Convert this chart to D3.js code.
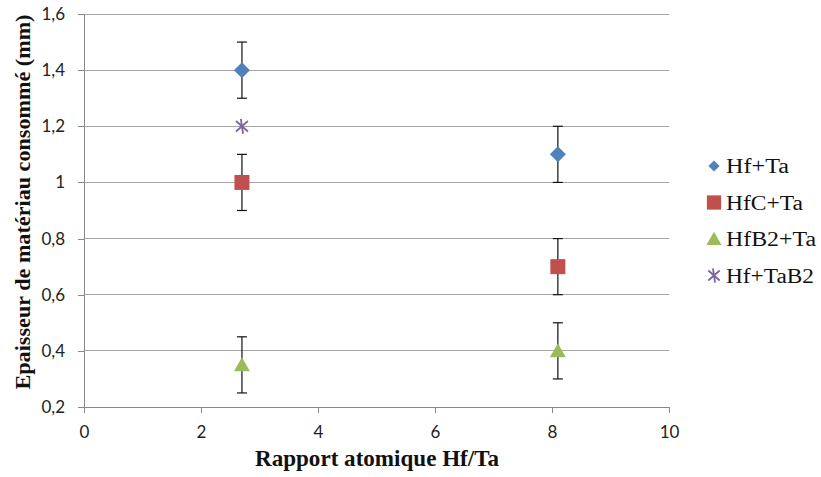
<!DOCTYPE html>
<html><head><meta charset="utf-8">
<script src="https://cdn.jsdelivr.net/npm/d3@7"></script>
<style>body{margin:0;background:#fff}</style>
</head><body>
<svg id="c" width="821" height="477"></svg>
<script>
const seriesNames = ["Hf+Ta", "HfC+Ta", "HfB2+Ta", "Hf+TaB2"];
const seriesColors = ["#4F81BD", "#C0504D", "#9BBB59", "#8064A2"];
const seriesShapes = ["diamond", "square", "triangle", "asterisk"];
const hfTaX = [2.7, 8.1], hfTaY = [1.4, 1.1], hfTaErr = [0.1, 0.1];
const hfcTaX = [2.7, 8.1], hfcTaY = [1.0, 0.7], hfcTaErr = [0.1, 0.1];
const hfb2TaX = [2.7, 8.1], hfb2TaY = [0.35, 0.4], hfb2TaErr = [0.1, 0.1];
const hfTab2X = [2.7], hfTab2Y = [1.2], hfTab2Err = [null];
const xTicks = [0, 2, 4, 6, 8, 10];
const yTicks = [0.2, 0.4, 0.6, 0.8, 1.0, 1.2, 1.4, 1.6];
const xTitle = "Rapport atomique Hf/Ta";
const yTitle = "Epaisseur de matériau consommé (mm)";

const series = [
  {x: hfTaX, y: hfTaY, e: hfTaErr},
  {x: hfcTaX, y: hfcTaY, e: hfcTaErr},
  {x: hfb2TaX, y: hfb2TaY, e: hfb2TaErr},
  {x: hfTab2X, y: hfTab2Y, e: hfTab2Err}
].map((s, i) => ({name: seriesNames[i], color: seriesColors[i], shape: seriesShapes[i],
  pts: s.x.map((xv, j) => ({x: xv, y: s.y[j], e: s.e[j]}))}));

const svg = d3.select("#c");
const L = 84, R = 669, T = 14, B = 407;
const x = d3.scaleLinear().domain([0, 10]).range([L, R]);
const y = d3.scaleLinear().domain([0.2, 1.6]).range([B, T]);
const fmt = d => d3.format(".1f")(d).replace(".", ",").replace(/,0$/, "");

// gridlines
svg.append("g").selectAll("line").data(yTicks.slice(1)).join("line")
  .attr("x1", L).attr("x2", R).attr("y1", d => y(d)).attr("y2", d => y(d))
  .attr("stroke", "#a6a6a6").attr("stroke-width", 1).attr("shape-rendering", "crispEdges");

const tickFont = "Lato, 'Open Sans', sans-serif";
const xAxis = svg.append("g").attr("transform", `translate(0,${B})`)
  .call(d3.axisBottom(x).tickValues(xTicks).tickSize(6).tickSizeOuter(0).tickPadding(13).tickFormat(d => d));
const yAxis = svg.append("g").attr("transform", `translate(${L},0)`)
  .call(d3.axisLeft(y).tickValues(yTicks).tickSize(6).tickSizeOuter(0).tickPadding(13).tickFormat(fmt));
[xAxis, yAxis].forEach(a => {
  a.attr("font-size", 17).attr("font-family", tickFont);
  a.select(".domain").attr("stroke", "#888").attr("shape-rendering", "crispEdges");
  a.selectAll(".tick line").attr("stroke", "#888").attr("shape-rendering", "crispEdges");
  a.selectAll("text").attr("fill", "#222").style("font-size", "17px").style("font-family", tickFont);
});

// error bars
const eg = svg.append("g");
series.forEach(s => s.pts.filter(p => p.e != null).forEach(p => {
  const cx = x(p.x);
  eg.append("line").attr("x1", cx).attr("x2", cx).attr("y1", y(p.y + p.e)).attr("y2", y(p.y - p.e))
    .attr("stroke", "#111").attr("stroke-width", 1.2);
  [p.y + p.e, p.y - p.e].forEach(v => eg.append("line").attr("x1", cx - 5).attr("x2", cx + 5)
    .attr("y1", y(v)).attr("y2", y(v)).attr("stroke", "#111").attr("stroke-width", 1.2));
}));

function drawMarker(g, shape, color, cx, cy, sc) {
  sc = sc || 1;
  if (shape === "diamond") {
    const r = 8 * sc;
    g.append("path").attr("d", `M${cx},${cy - r}L${cx + r},${cy}L${cx},${cy + r}L${cx - r},${cy}Z`).attr("fill", color);
  } else if (shape === "square") {
    const r = 7.5 * sc;
    g.append("rect").attr("x", cx - r).attr("y", cy - r).attr("width", 2 * r).attr("height", 2 * r).attr("fill", color);
  } else if (shape === "triangle") {
    const w = 8 * sc, h = 14 * sc;
    g.append("path").attr("d", `M${cx},${cy - h * 0.55}L${cx + w},${cy + h * 0.45}L${cx - w},${cy + h * 0.45}Z`).attr("fill", color);
  } else {
    const r = 7.5 * sc;
    g.append("path").attr("d", `M${cx - r * 0.15},${cy - r}L${cx + r * 0.15},${cy + r}M${cx - r * 0.8},${cy - r * 0.7}L${cx + r * 0.8},${cy + r * 0.7}M${cx - r * 0.8},${cy + r * 0.7}L${cx + r * 0.8},${cy - r * 0.7}`)
      .attr("stroke", color).attr("stroke-width", 1.8).attr("fill", "none");
  }
}
const mg = svg.append("g");
series.forEach(s => s.pts.forEach(p => drawMarker(mg, s.shape, s.color, x(p.x), y(p.y))));

// legend
const lg = svg.append("g");
const legendWidths = [63, 77, 90, 88];
series.forEach((s, i) => {
  const cy = 166 + i * 36.5;
  drawMarker(lg, s.shape, s.color, 714, cy, s.shape === "diamond" ? 0.7 : 0.95);
  lg.append("text").attr("x", 726).attr("y", cy).attr("dy", "0.35em")
    .attr("font-family", "'Liberation Serif', 'Times New Roman', serif").attr("font-size", 20)
    .attr("textLength", legendWidths[i]).attr("lengthAdjust", "spacingAndGlyphs")
    .attr("fill", "#111").text(s.name);
});

// titles
svg.append("text").attr("x", 377).attr("y", 466).attr("text-anchor", "middle")
  .attr("font-family", "'Liberation Serif', serif").attr("font-weight", "bold").attr("font-size", 23)
  .attr("textLength", 244).attr("lengthAdjust", "spacingAndGlyphs")
  .attr("fill", "#111").text(xTitle);
svg.append("text").attr("transform", `translate(30,${202}) rotate(-90)`).attr("text-anchor", "middle")
  .attr("font-family", "'Liberation Serif', serif").attr("font-weight", "bold").attr("font-size", 22)
  .attr("textLength", 375).attr("lengthAdjust", "spacingAndGlyphs")
  .attr("fill", "#111").text(yTitle);
</script>
</body></html>
